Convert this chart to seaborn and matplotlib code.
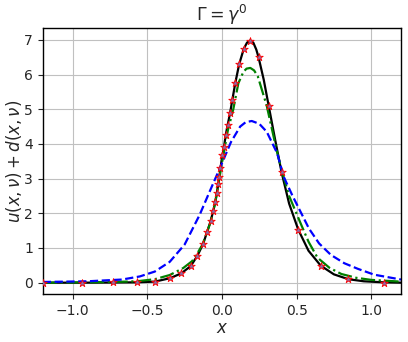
import matplotlib
matplotlib.use("Agg")
import matplotlib.pyplot as plt
import seaborn as sns

# black solid curve
x_black = [-1.2, -0.94, -0.73, -0.57, -0.45, -0.347, -0.272, -0.209, -0.164, -0.126,
           -0.099, -0.076, -0.059, -0.045, -0.034, -0.025, -0.018, 0.0, 0.014, 0.025,
           0.038, 0.054, 0.07, 0.09, 0.115, 0.146, 0.168, 0.189, 0.21, 0.23, 0.245,
           0.28, 0.313, 0.355, 0.399, 0.45, 0.511, 0.58, 0.662, 0.75, 0.847, 0.95, 1.083, 1.2]
y_black = [0.0, 0.0, 0.005, 0.01, 0.03, 0.13, 0.27, 0.48, 0.78, 1.12,
           1.47, 1.77, 2.06, 2.33, 2.59, 2.83, 3.05, 3.6, 3.92, 4.25,
           4.54, 4.88, 5.28, 5.77, 6.29, 6.74, 6.92, 6.98, 6.92, 6.72, 6.5,
           5.85, 5.1, 4.15, 3.19, 2.28, 1.53, 0.92, 0.49, 0.24, 0.1, 0.04, 0.01, 0.0]

# green dash-dot curve
x_green = [-1.2, -0.94, -0.73, -0.57, -0.45, -0.35, -0.26, -0.2, -0.171, -0.13,
           -0.08, -0.045, 0.0, 0.04, 0.076, 0.11, 0.144, 0.165, 0.19, 0.215, 0.24,
           0.3, 0.37, 0.4, 0.45, 0.527, 0.58, 0.64, 0.72, 0.8, 0.9, 1.0, 1.2]
y_green = [0.0, 0.01, 0.02, 0.04, 0.1, 0.22, 0.42, 0.62, 0.8, 1.1,
           1.7, 2.3, 3.45, 4.4, 5.0, 5.75, 6.08, 6.17, 6.19, 6.12, 5.95,
           5.1, 3.75, 3.25, 2.5, 1.71, 1.18, 0.72, 0.43, 0.25, 0.14, 0.08, 0.03]

# blue dashed curve
x_blue = [-1.2, -0.9, -0.67, -0.55, -0.45, -0.35, -0.25, -0.15, -0.08, -0.014,
          0.06, 0.122, 0.16, 0.2, 0.25, 0.3, 0.37, 0.414, 0.471, 0.527, 0.583,
          0.651, 0.73, 0.82, 0.91, 1.02, 1.2]
y_blue = [0.02, 0.04, 0.09, 0.18, 0.32, 0.6, 1.1, 1.95, 2.65, 3.3,
          4.05, 4.5, 4.63, 4.66, 4.58, 4.35, 3.73, 3.05, 2.52, 2.04, 1.56,
          1.13, 0.8, 0.56, 0.4, 0.23, 0.09]

# star markers
x_stars = [-1.2, -0.94, -0.73, -0.57, -0.45, -0.347, -0.272, -0.209, -0.164, -0.126,
           -0.099, -0.076, -0.059, -0.045, -0.034, -0.025, -0.018, -0.01, 0.002, 0.014,
           0.025, 0.038, 0.054, 0.07, 0.09, 0.115, 0.146, 0.189, 0.245, 0.313,
           0.399, 0.511, 0.662, 0.847, 1.083]
y_stars = [0.0, 0.0, 0.005, 0.01, 0.03, 0.13, 0.27, 0.48, 0.78, 1.12,
           1.47, 1.77, 2.06, 2.33, 2.59, 2.83, 3.05, 3.3, 3.68, 3.92,
           4.25, 4.54, 4.88, 5.28, 5.77, 6.29, 6.74, 6.98, 6.5, 5.1,
           3.19, 1.53, 0.49, 0.1, 0.0]

sns.set_theme(style="ticks", rc={"axes.grid": True, "grid.color": "#c0c0c0",
                                 "grid.linewidth": 0.8, "axes.edgecolor": "black",
                                 "axes.linewidth": 1.0,
                                 "xtick.major.size": 3.5, "ytick.major.size": 3.5,
                                 "xtick.major.width": 0.8, "ytick.major.width": 0.8,
                                 "font.size": 10, "xtick.labelsize": 10,
                                 "ytick.labelsize": 10, "axes.labelsize": 12})
plt.rcParams['font.family'] = ['DejaVu Sans']

fig, ax = plt.subplots(figsize=(4.08, 3.42), dpi=100)

sns.lineplot(x=x_black, y=y_black, ax=ax, color="black", linewidth=1.6,
             sort=False, estimator=None)
sns.lineplot(x=x_green, y=y_green, ax=ax, color="green", linewidth=1.6,
             linestyle="-.", sort=False, estimator=None)
sns.lineplot(x=x_blue, y=y_blue, ax=ax, color="blue", linewidth=1.6,
             linestyle="--", sort=False, estimator=None)
sns.scatterplot(x=x_stars, y=y_stars, ax=ax, marker="*", s=32,
                facecolor="m", edgecolor="red", linewidth=0.6, zorder=5)

ax.set_xlim(-1.2, 1.2)
ax.set_ylim(-0.33, 7.33)
ax.set_xticks([-1.0, -0.5, 0.0, 0.5, 1.0])
ax.set_yticks(range(0, 8))
ax.set_xlabel("$x$", labelpad=1)
ax.set_ylabel(r"$u(x,\nu)+d(x,\nu)$", labelpad=0)
ax.set_title(r"$\Gamma = \gamma^0$", fontsize=12.5, pad=5)

fig.subplots_adjust(left=0.105, right=0.983, top=0.917, bottom=0.14)
fig.savefig("out.png", dpi=100)
